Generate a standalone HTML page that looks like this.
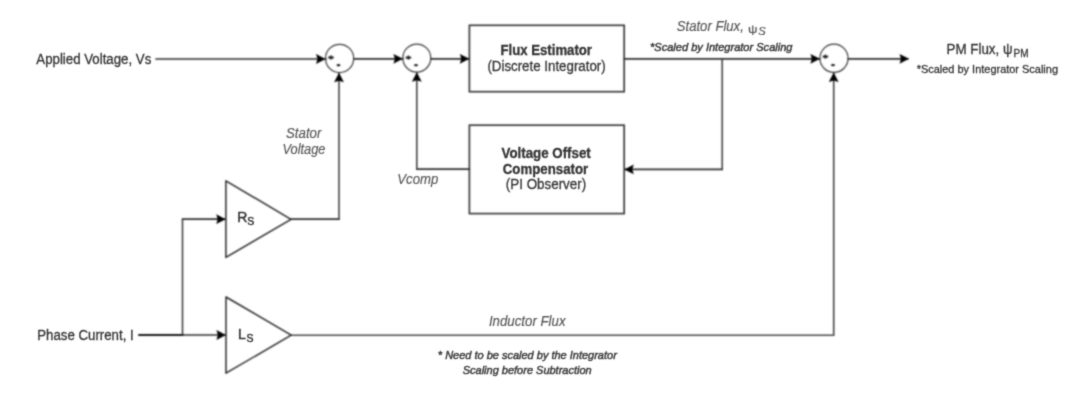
<!DOCTYPE html>
<html><head><meta charset="utf-8">
<style>
html,body{margin:0;padding:0;background:#fff;width:1080px;height:420px;overflow:hidden}
svg{display:block}
#w{width:1080px;height:420px;background:#fff}
text{font-family:"Liberation Sans",sans-serif}
</style></head>
<body><div id="w">
<svg width="1080" height="420" viewBox="0 0 1080 420">
<defs><filter id="bf" filterUnits="userSpaceOnUse" x="0" y="0" width="1080" height="420" color-interpolation-filters="sRGB"><feConvolveMatrix order="5" kernelMatrix="0.000481 0.005011 0.010945 0.005011 0.000481 0.005011 0.052218 0.114054 0.052218 0.005011 0.010945 0.114054 0.249117 0.114054 0.010945 0.005011 0.052218 0.114054 0.052218 0.005011 0.000481 0.005011 0.010945 0.005011 0.000481" divisor="1" edgeMode="none"/></filter>
<filter id="bt" filterUnits="userSpaceOnUse" x="0" y="0" width="1080" height="420" color-interpolation-filters="sRGB"><feConvolveMatrix order="5" kernelMatrix="0.000007 0.000425 0.001704 0.000425 0.000007 0.000425 0.027398 0.109878 0.027398 0.000425 0.001704 0.109878 0.440655 0.109878 0.001704 0.000425 0.027398 0.109878 0.027398 0.000425 0.000007 0.000425 0.001704 0.000425 0.000007" divisor="1" edgeMode="none"/></filter></defs>
<rect width="1080" height="420" fill="#fff"/>
<g filter="url(#bf)">
<g fill="none" stroke-linecap="round" stroke-linejoin="round">
<path d="M156,59 H326 M353.7,58.8 H403 M430.8,58.8 H469 M624.2,58.8 H820 M848.1,58.8 H908 M722.2,169.4 H625 M469.4,169.2 H416.8 M291,219.2 H339 M182.5,219.2 H225 M182.5,335 H225" stroke="#303030" stroke-width="1.7"/>
<path d="M722.2,58.8 V169.4 M416.8,169.2 V73 M339,219.2 V73 M182.5,335 V219.2 M833.7,335.2 V73" stroke="#383838" stroke-width="1.5"/>
<path d="M291.2,335.2 H833.7" stroke="#484848" stroke-width="1.5"/>
<path d="M139,335 H182.5" stroke="#1a1a1a" stroke-width="2.2"/>
</g>
<g fill="none" stroke="#303030" stroke-width="1.6">
<rect x="469.4" y="25.3" width="154.8" height="66.4"/>
<rect x="469.4" y="125.2" width="154.8" height="88.4"/>
</g>
<g fill="none" stroke="#3a3a3a" stroke-width="1.2">
<circle cx="339.6" cy="58.4" r="14.1"/>
<circle cx="416.8" cy="58.1" r="14"/>
<circle cx="834" cy="58.3" r="14.1"/>
</g>
<g fill="none" stroke="#2a2a2a" stroke-width="1.5" stroke-linejoin="round">
<polygon points="225.9,180.8 225.9,257.4 291,219.3"/>
<polygon points="226,297 226,373.2 291.2,335.1"/>
</g>
<g fill="#000">
<path d="M325.50,59.00 L316.00,63.90 L317.50,59.00 L316.00,54.10 Z"/>
<path d="M402.90,58.80 L393.40,63.70 L394.90,58.80 L393.40,53.90 Z"/>
<path d="M469.30,58.80 L459.80,63.70 L461.30,58.80 L459.80,53.90 Z"/>
<path d="M819.90,58.80 L810.40,63.70 L811.90,58.80 L810.40,53.90 Z"/>
<path d="M909.00,58.80 L899.50,63.70 L901.00,58.80 L899.50,53.90 Z"/>
<path d="M624.30,169.40 L633.80,164.50 L632.30,169.40 L633.80,174.30 Z"/>
<path d="M416.80,72.20 L421.70,81.70 L416.80,80.20 L411.90,81.70 Z"/>
<path d="M339.00,72.80 L343.90,82.30 L339.00,80.80 L334.10,82.30 Z"/>
<path d="M225.70,219.20 L216.20,224.10 L217.70,219.20 L216.20,214.30 Z"/>
<path d="M225.90,335.00 L216.40,339.90 L217.90,335.00 L216.40,330.10 Z"/>
<path d="M833.70,72.50 L838.60,82.00 L833.70,80.50 L828.80,82.00 Z"/>
</g>
<!-- plus minus signs -->
<g fill="none" stroke="#111">
<path d="M328.3,57.5 h5.4" stroke-width="2.0"/><path d="M331,55.3 v4.4" stroke-width="1.2"/><path d="M336.8,65.2 h3.4" stroke-width="2.0"/>
<path d="M405.7,57.6 h5.4" stroke-width="2.0"/><path d="M408.4,55.4 v4.4" stroke-width="1.2"/><path d="M414.3,65.2 h3.4" stroke-width="2.0"/>
<path d="M822.7,56.6 h5.4" stroke-width="2.0"/><path d="M825.4,54.4 v4.4" stroke-width="1.2"/><path d="M831.3,65.1 h3.4" stroke-width="2.0"/>
</g>
</g>
<g filter="url(#bt)">
<g fill="#333" stroke="#333" stroke-width="0.3">
<text x="36.3" y="63.5" font-size="14" textLength="115" lengthAdjust="spacingAndGlyphs">Applied Voltage, Vs</text>
<text x="500.5" y="55.2" font-size="14" textLength="91.5" lengthAdjust="spacingAndGlyphs" font-weight="bold">Flux Estimator</text>
<text x="487.4" y="71.2" font-size="14" textLength="118.3" lengthAdjust="spacingAndGlyphs" fill="#383838">(Discrete Integrator)</text>
<text x="501.5" y="158.3" font-size="14" textLength="89.3" lengthAdjust="spacingAndGlyphs" font-weight="bold">Voltage Offset</text>
<text x="502.8" y="174" font-size="14" textLength="85.4" lengthAdjust="spacingAndGlyphs" font-weight="bold">Compensator</text>
<text x="505.8" y="189.3" font-size="14" textLength="80.4" lengthAdjust="spacingAndGlyphs" fill="#383838">(PI Observer)</text>
<text x="37.2" y="339.7" font-size="14" textLength="96.5" lengthAdjust="spacingAndGlyphs">Phase Current, I</text>
<text x="237.3" y="221.8" font-size="14" font-weight="normal" stroke="#333" stroke-width="0.45">R</text>
<text x="247.2" y="225.1" font-size="10.5" font-weight="normal" stroke="#333" stroke-width="0.45">S</text>
<text x="238" y="339.2" font-size="14" font-weight="normal" stroke="#333" stroke-width="0.45">L</text>
<text x="246.6" y="341.6" font-size="10.5" font-weight="normal" stroke="#333" stroke-width="0.45">S</text>
<text x="946.5" y="53.7" font-size="14" textLength="66" lengthAdjust="spacingAndGlyphs">PM Flux, ψ</text>
<text x="1013.5" y="56.5" font-size="11" textLength="15" lengthAdjust="spacingAndGlyphs">PM</text>
<text x="916.7" y="72.6" font-size="11.5" textLength="141.3" lengthAdjust="spacingAndGlyphs">*Scaled by Integrator Scaling</text>
</g>
<g fill="#555" font-style="italic" stroke="#555" stroke-width="0.15">
<text x="676.8" y="31" font-size="14" textLength="67" lengthAdjust="spacingAndGlyphs">Stator Flux,</text>
<text x="748" y="33.2" font-size="11.5" textLength="9.5" lengthAdjust="spacingAndGlyphs" font-style="normal">ψ</text>
<text x="758.3" y="35" font-size="11" textLength="7.5" lengthAdjust="spacingAndGlyphs">S</text>
<text x="650" y="50.7" font-size="11" textLength="142.5" lengthAdjust="spacingAndGlyphs" font-weight="normal" fill="#333" stroke="#3a3a3a" stroke-width="0.45">*Scaled by Integrator Scaling</text>
<text x="286" y="137.6" font-size="14" textLength="35.4" lengthAdjust="spacingAndGlyphs">Stator</text>
<text x="282.5" y="153.7" font-size="14" textLength="43" lengthAdjust="spacingAndGlyphs">Voltage</text>
<text x="397.3" y="184" font-size="14" textLength="41" lengthAdjust="spacingAndGlyphs">Vcomp</text>
<text x="488.9" y="326.2" font-size="14" textLength="76.7" lengthAdjust="spacingAndGlyphs">Inductor Flux</text>
<text x="437.8" y="358.9" font-size="11" textLength="179" lengthAdjust="spacingAndGlyphs" font-weight="normal" fill="#333" stroke="#3a3a3a" stroke-width="0.45">* Need to be scaled by the Integrator</text>
<text x="462.7" y="374" font-size="11" textLength="129" lengthAdjust="spacingAndGlyphs" font-weight="normal" fill="#333" stroke="#3a3a3a" stroke-width="0.45">Scaling before Subtraction</text>
</g>
</g>
</svg>
</div></body></html>
